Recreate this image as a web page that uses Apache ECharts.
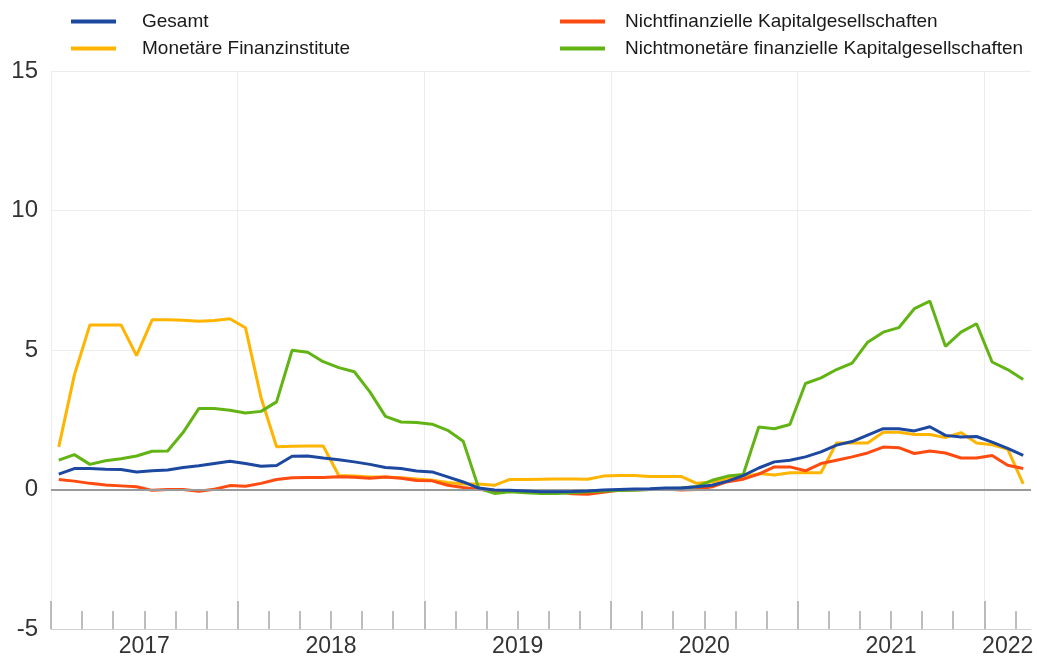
<!DOCTYPE html>
<html>
<head>
<meta charset="utf-8">
<script src="https://cdn.jsdelivr.net/npm/echarts@6/dist/echarts.min.js"></script>
<style>
html,body{margin:0;padding:0;background:#fff;}
#chart{width:1037px;height:660px;}
</style>
</head>
<body>
<div id="chart"></div>
<script>
// Monthly observations, Jan 2017 – Mar 2022
const months = [];
for (let y = 2017; y <= 2022; y++) {
  for (let m = 1; m <= 12; m++) {
    if (y === 2022 && m > 3) break;
    months.push(y + '-' + (m < 10 ? '0' + m : m));
  }
}

const yearLabels = ['2017', '2018', '2019', '2020', '2021', '2022'];
const yearLabelPos = [6, 18, 30, 42, 54, 61.5];
const yearTickPos = [0, 12, 24, 36, 48, 60];
const minorTickPos = [0,2,4,6,8,10,12,14,16,18,20,22,24,26,28,30,32,34,36,38,40,42,44,46,48,50,52,54,56,58,60,62];

const seriesNames = ['Gesamt', 'Monetäre Finanzinstitute', 'Nichtfinanzielle Kapitalgesellschaften', 'Nichtmonetäre finanzielle Kapitalgesellschaften'];

const gesamt = [
  0.55,0.75,0.75,0.73,0.72,0.63,0.67,0.70,0.79,0.85,0.93,1.01,
  0.93,0.83,0.86,1.19,1.20,1.13,1.07,0.99,0.90,0.79,0.75,0.66,
  0.63,0.45,0.27,0.05,-0.02,-0.03,-0.05,-0.08,-0.08,-0.07,-0.05,-0.02,
  0.00,0.02,0.03,0.05,0.05,0.10,0.15,0.30,0.50,0.77,0.99,1.05,
  1.17,1.35,1.59,1.72,1.95,2.18,2.18,2.10,2.25,1.94,1.88,1.90,
  1.70,1.47,1.22
];
const monetaere = [
  1.53,4.10,5.90,5.90,5.90,4.80,6.08,6.08,6.07,6.03,6.06,6.12,
  5.80,3.30,1.53,1.55,1.56,1.56,0.50,0.48,0.45,0.45,0.42,0.38,
  0.33,0.25,0.20,0.20,0.15,0.36,0.36,0.37,0.38,0.38,0.37,0.48,
  0.50,0.50,0.47,0.47,0.47,0.22,0.27,0.40,0.45,0.57,0.52,0.60,
  0.60,0.60,1.67,1.67,1.67,2.05,2.05,1.97,1.97,1.86,2.04,1.67,
  1.60,1.45,0.20
];
const nichtfinanziell = [
  0.36,0.30,0.22,0.16,0.13,0.10,-0.03,0.00,0.00,-0.06,0.01,0.14,
  0.12,0.22,0.36,0.42,0.43,0.43,0.46,0.44,0.40,0.45,0.40,0.32,
  0.31,0.15,0.07,0.00,-0.03,-0.05,-0.06,-0.08,-0.08,-0.15,-0.17,-0.10,
  -0.03,-0.01,0.00,0.02,-0.02,0.00,0.10,0.28,0.37,0.55,0.81,0.81,
  0.67,0.93,1.05,1.17,1.31,1.52,1.50,1.29,1.38,1.31,1.13,1.13,
  1.22,0.87,0.75
];
const nichtmonetaer = [
  1.05,1.25,0.90,1.03,1.10,1.20,1.37,1.38,2.05,2.90,2.90,2.84,
  2.74,2.80,3.14,4.99,4.92,4.58,4.37,4.22,3.50,2.62,2.42,2.40,
  2.34,2.12,1.73,0.04,-0.14,-0.08,-0.12,-0.14,-0.14,-0.12,-0.08,-0.05,
  -0.04,-0.03,0.00,0.03,0.05,0.10,0.33,0.48,0.54,2.24,2.18,2.33,
  3.80,4.00,4.30,4.53,5.28,5.64,5.80,6.48,6.75,5.13,5.64,5.94,
  4.57,4.30,3.94
];

const yTicks = { min: -5, max: 15, interval: 5 };

const colors = {
  'Gesamt': '#1c48a0',
  'Monetäre Finanzinstitute': '#ffb400',
  'Nichtfinanzielle Kapitalgesellschaften': '#ff4b0f',
  'Nichtmonetäre finanzielle Kapitalgesellschaften': '#62b414'
};

// place each monthly value at the middle of its month on a month-index axis
function toPoints(arr) { return arr.map((v, i) => [i + 0.5, v]); }

const font = 'Liberation Sans, Arial, Helvetica, sans-serif';

function lineSeries(name, arr, z) {
  return {
    name: name, type: 'line', data: toPoints(arr), z: z,
    showSymbol: false, symbol: 'none',
    lineStyle: { width: 3, color: colors[name] },
    itemStyle: { color: colors[name] },
    emphasis: { disabled: true }, animation: false
  };
}

function legendCfg(left, names, padLeft) {
  return {
    orient: 'vertical', top: 7, left: left, itemGap: 8,
    itemWidth: 45, itemHeight: 4, icon: 'rect',
    textStyle: { fontFamily: font, fontSize: 19, color: '#1a1a1a', lineHeight: 19, padding: [0, 0, 0, padLeft] },
    selectedMode: false,
    data: names
  };
}

const chart = echarts.init(document.getElementById('chart'), null, { renderer: 'canvas' });
chart.setOption({
  animation: false,
  backgroundColor: '#fff',
  grid: { left: 51, right: 6, top: 71, bottom: 31, containLabel: false },
  legend: [
    legendCfg(66, [seriesNames[0], seriesNames[1]], 21),
    legendCfg(555, [seriesNames[2], seriesNames[3]], 15)
  ],
  xAxis: [
    {
      type: 'value', min: 0, max: months.length, position: 'bottom',
      axisLine: { show: true, onZero: false, lineStyle: { color: '#d0d0d0', width: 1 } },
      axisTick: { show: true, inside: true, length: 18, customValues: minorTickPos, lineStyle: { color: '#a8a8a8', width: 1.5 } },
      axisLabel: {
        show: true, customValues: yearLabelPos, margin: 6,
        fontFamily: font, fontSize: 23, color: '#333',
        formatter: function (v) { const k = yearLabelPos.indexOf(v); return k >= 0 ? yearLabels[k] : ''; }
      },
      splitLine: { show: false }
    },
    {
      type: 'value', min: 0, max: months.length, position: 'bottom',
      axisLine: { show: false, onZero: false },
      axisTick: { show: true, inside: true, length: 28, customValues: yearTickPos, lineStyle: { color: '#a8a8a8', width: 1.5 } },
      axisLabel: { show: false },
      splitLine: { show: true, lineStyle: { color: '#ececec', width: 1 } }
    }
  ],
  yAxis: {
    type: 'value', min: yTicks.min, max: yTicks.max, interval: yTicks.interval,
    axisLine: { show: false }, axisTick: { show: false },
    axisLabel: { fontFamily: font, fontSize: 24, color: '#333', margin: 13 },
    splitLine: { show: true, lineStyle: { color: '#ececec', width: 1 } }
  },
  series: [
    {
      name: 'zero', type: 'line', data: [], z: 1, silent: true,
      markLine: {
        silent: true, symbol: 'none', animation: false,
        label: { show: false },
        lineStyle: { color: '#9a9a9a', width: 2, type: 'solid' },
        data: [{ yAxis: 0 }]
      }
    },
    lineSeries(seriesNames[1], monetaere, 2),
    lineSeries(seriesNames[2], nichtfinanziell, 3),
    lineSeries(seriesNames[3], nichtmonetaer, 4),
    lineSeries(seriesNames[0], gesamt, 5)
  ]
});
</script>
</body>
</html>
